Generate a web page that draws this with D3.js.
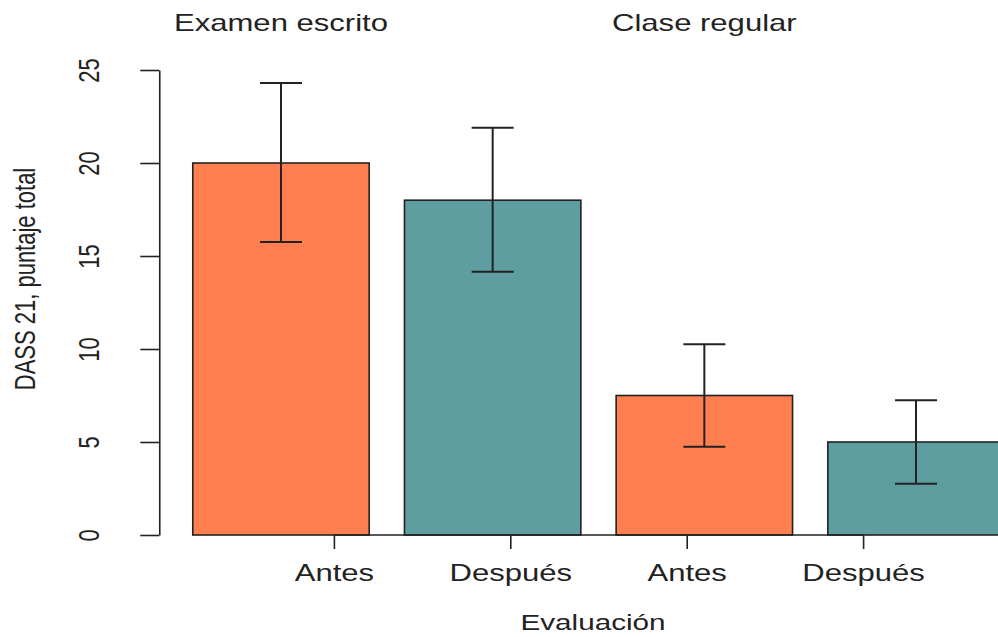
<!DOCTYPE html>
<html>
<head>
<meta charset="utf-8">
<script src="https://d3js.org/d3.v7.min.js"></script>
<style>
    body { margin: 0; background: #fff; }
    svg text { font-family: "Liberation Sans", Arial, sans-serif; fill: #222; }
    .axis path, .axis line { stroke: #222; stroke-width: 1.6px; }
    .bar { stroke: #222; stroke-width: 1.6px; }
    .err { stroke: #222; stroke-width: 2px; }
</style>
</head>
<body>
<div id="chart"></div>
<script>
// data
const groups = ["Examen escrito", "Clase regular"];
const tiempos = ["Antes", "Después", "Antes", "Después"];
const medias = [20, 18, 7.5, 5];
const inferior = [15.75, 14.15, 4.75, 2.75];
const superior = [24.3, 21.9, 10.25, 7.25];
const colores = ["#FF7F50", "#5F9EA0", "#FF7F50", "#5F9EA0"];
const yTicks = [0, 5, 10, 15, 20, 25];

const W = 998, H = 637;
const stretch = 1.35;   // the source picture is stretched sideways
const fs = 23;

const svg = d3.select("#chart").append("svg")
    .attr("width", W).attr("height", H);

// barplot style coordinates: width 1, space 0.2
const x = d3.scaleLinear().domain([0, 5]).range([157.5, 1039.5]);
const y = d3.scaleLinear().domain([0, 25]).range([535, 70]);

const bars = medias.map((v, i) => ({
    mid: 0.7 + 1.2 * i,
    v: v, lo: inferior[i], hi: superior[i],
    col: colores[i], lab: tiempos[i]
}));

// bars
svg.selectAll("rect.bar").data(bars).enter().append("rect")
    .attr("class", "bar")
    .attr("x", d => x(d.mid - 0.5))
    .attr("width", d => x(d.mid + 0.5) - x(d.mid - 0.5))
    .attr("y", d => y(d.v))
    .attr("height", d => y(0) - y(d.v))
    .attr("fill", d => d.col);

// error bars
const cap = 21;
bars.forEach(d => {
    const cx = x(d.mid);
    svg.append("line").attr("class", "err")
        .attr("x1", cx).attr("x2", cx)
        .attr("y1", y(d.lo)).attr("y2", y(d.hi));
    [d.lo, d.hi].forEach(v => {
        svg.append("line").attr("class", "err")
            .attr("x1", cx - cap).attr("x2", cx + cap)
            .attr("y1", y(v)).attr("y2", y(v));
    });
});

// y axis
const yAxis = svg.append("g").attr("class", "axis")
    .attr("transform", `translate(${x(0.01)},0)`)
    .call(d3.axisLeft(y).tickValues(yTicks).tickSize(19).tickSizeOuter(0));
yAxis.selectAll("text")
    .attr("x", null).attr("dy", null)
    .attr("text-anchor", "middle")
    .style("font-size", fs - 1 + "px")
    .attr("transform", `translate(-60,0) scale(${stretch},1) rotate(-90)`);

// x axis, from first to last tick
const xAxis = svg.append("g").attr("class", "axis")
    .attr("transform", `translate(0,${y(0)})`)
    .call(d3.axisBottom(x).tickValues([1, 2, 3, 4]).tickSize(14).tickSizeOuter(0)
        .tickFormat((d, i) => tiempos[i]));
xAxis.select("path.domain").attr("d", `M${x(1)},0H${x(4)}`);
xAxis.selectAll("text")
    .attr("y", null).attr("dy", null)
    .attr("text-anchor", "middle")
    .style("font-size", fs + "px")
    .attr("transform", `translate(0,46) scale(${stretch},1)`);

// group labels on top
[0.7, 3.1].forEach((u, i) => {
    svg.append("text")
        .attr("text-anchor", "middle")
        .style("font-size", fs + "px")
        .attr("transform", `translate(${x(u)},31) scale(${stretch},1)`)
        .text(groups[i]);
});

// axis titles
svg.append("text")
    .attr("text-anchor", "middle")
    .style("font-size", fs - 1 + "px")
    .attr("transform", `translate(593,630) scale(${stretch},1)`)
    .text("Evaluación");

svg.append("text")
    .attr("text-anchor", "middle")
    .style("font-size", fs - 1 + "px")
    .attr("transform", `translate(35,279) scale(${stretch},1) rotate(-90)`)
    .text("DASS 21, puntaje total");
</script>
</body>
</html>
